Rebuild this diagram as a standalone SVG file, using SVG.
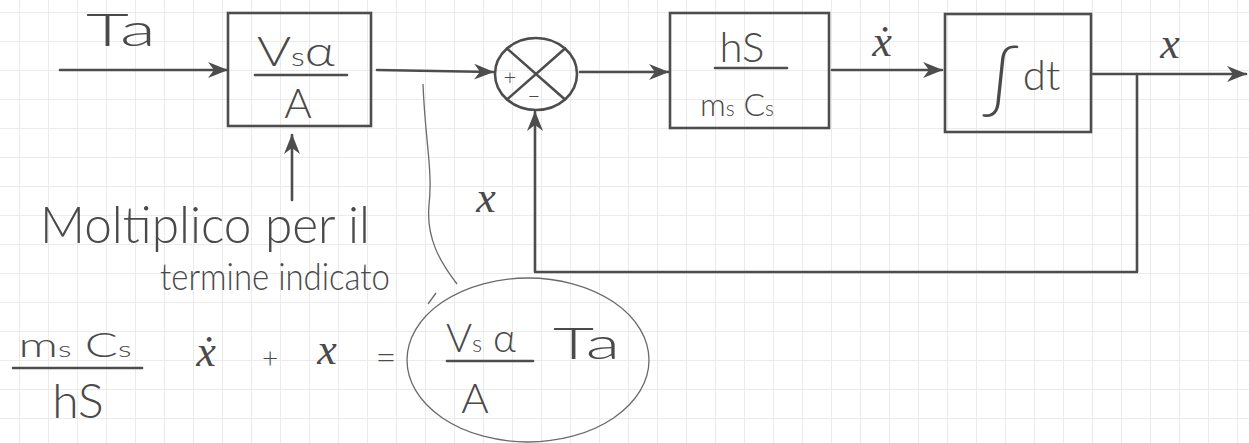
<svg xmlns="http://www.w3.org/2000/svg" width="1249" height="443" viewBox="0 0 1249 443">
<style>
.ln{stroke:#4d4d4d;stroke-width:2.6;fill:none;stroke-linecap:round;stroke-linejoin:round}
.bx{stroke:#4d4d4d;stroke-width:2.6;fill:none}
.t{font-family:"Lato","Liberation Sans",Arial,sans-serif;font-weight:300;fill:#4a4a4a}
.i{font-family:"Liberation Serif","DejaVu Serif",serif;font-style:italic;fill:#4a4a4a}
.thin{stroke:#6a6a6a;stroke-width:1.3;fill:none}
.mid{text-anchor:middle}
</style>
<defs>
<pattern id="grid" width="29" height="29" patternUnits="userSpaceOnUse" x="19" y="12">
<path d="M0,0.5 H29 M0.5,0 V29" stroke="#ebebeb" stroke-width="1" fill="none"/>
</pattern>
<marker id="ah" viewBox="0 0 20 16" refX="19" refY="8" markerWidth="20" markerHeight="16" markerUnits="userSpaceOnUse" orient="auto">
<path d="M0,0 L20,8 L0,16 L6,8 z" fill="#4d4d4d"/>
</marker>
</defs>
<rect width="1249" height="443" fill="#ffffff"/>
<rect width="1249" height="443" fill="url(#grid)"/>

<g id="connectors">
<line class="ln" x1="60" y1="70" x2="227" y2="70" marker-end="url(#ah)"/>
<line class="ln" x1="292" y1="200" x2="292" y2="135" marker-end="url(#ah)"/>
<line class="ln" x1="377" y1="70" x2="493" y2="72" marker-end="url(#ah)"/>
<line class="ln" x1="580" y1="72" x2="668" y2="72" marker-end="url(#ah)"/>
<line class="ln" x1="832" y1="70" x2="942" y2="70" marker-end="url(#ah)"/>
<line class="ln" x1="1093" y1="74" x2="1246" y2="74" marker-end="url(#ah)"/>
<path class="ln" d="M1137,74 V272 H535 V112" marker-end="url(#ah)"/>
</g>

<g id="label-Ta">
<text class="t" x="86" y="46" font-size="46" textLength="70" lengthAdjust="spacingAndGlyphs">Ta</text>
</g>

<g id="block-gain">
<rect class="bx" x="228" y="13" width="143" height="113"/>
<text class="t" x="257" y="66" font-size="42" textLength="78" lengthAdjust="spacingAndGlyphs">V<tspan font-size="26">s</tspan>α</text>
<line class="ln" x1="255" y1="75" x2="347" y2="75"/>
<text class="t mid" x="298" y="118" font-size="42">A</text>
</g>

<g id="sum">
<ellipse class="ln" cx="536" cy="74" rx="41" ry="36"/>
<line class="ln" x1="507" y1="48.5" x2="565" y2="99.5"/>
<line class="ln" x1="565" y1="48.5" x2="507" y2="99.5"/>
<text class="t mid" x="510" y="85" font-size="22">+</text>
<text class="t mid" x="534" y="104" font-size="22">−</text>
</g>

<g id="label-x-feedback">
<text class="i mid" x="486" y="212" font-size="44">x</text>
</g>

<g id="block-hs">
<rect class="bx" x="670" y="13" width="159" height="115"/>
<text class="t mid" x="742" y="62" font-size="42">hS</text>
<line class="ln" x1="715" y1="68" x2="787" y2="68"/>
<text class="t mid" x="737" y="116" font-size="32">m<tspan font-size="21">s</tspan> C<tspan font-size="21">s</tspan></text>
</g>

<g id="label-xdot">
<text class="i mid" x="882" y="56" font-size="44">ẋ</text>
</g>

<g id="block-int">
<rect class="bx" x="945" y="14" width="146" height="118"/>
<text class="t" x="982" y="90" font-size="42"><tspan font-size="72" dy="14">∫</tspan><tspan dy="-14" dx="4">dt</tspan></text>
</g>

<g id="label-x-out">
<text class="i mid" x="1170" y="58" font-size="44">x</text>
</g>

<g id="annotation">
<text class="t" x="40" y="243" font-size="52" textLength="330" lengthAdjust="spacingAndGlyphs">Moltiplico per il</text>
<text class="t" x="160" y="290" font-size="38" textLength="230" lengthAdjust="spacingAndGlyphs">termine indicato</text>
<path class="thin" d="M423,84 C425,140 433,170 429,205 C426,238 440,262 457,284"/>
</g>

<g id="equation">
<text class="t mid" x="75" y="357" font-size="34" textLength="113" lengthAdjust="spacingAndGlyphs">m<tspan font-size="22">s</tspan> C<tspan font-size="22">s</tspan></text>
<line class="ln" x1="13" y1="368" x2="142" y2="368" stroke-width="3"/>
<text class="t mid" x="78" y="418" font-size="48">hS</text>
<text class="i mid" x="206" y="366" font-size="44">ẋ</text>
<text class="t mid" x="270" y="368" font-size="28">+</text>
<text class="i mid" x="327" y="364" font-size="44">x</text>
<text class="t mid" x="386" y="370" font-size="36">=</text>
<ellipse class="thin" cx="528" cy="360" rx="121" ry="82"/>
<line class="thin" x1="428" y1="304" x2="436" y2="293"/>
<text class="t" x="446" y="352" font-size="40" textLength="70" lengthAdjust="spacingAndGlyphs">V<tspan font-size="24">s</tspan> α</text>
<line class="ln" x1="447" y1="361" x2="533" y2="361"/>
<text class="t mid" x="475" y="413" font-size="42">A</text>
<text class="t" x="553" y="359" font-size="44" textLength="67" lengthAdjust="spacingAndGlyphs">Ta</text>
</g>
</svg>
